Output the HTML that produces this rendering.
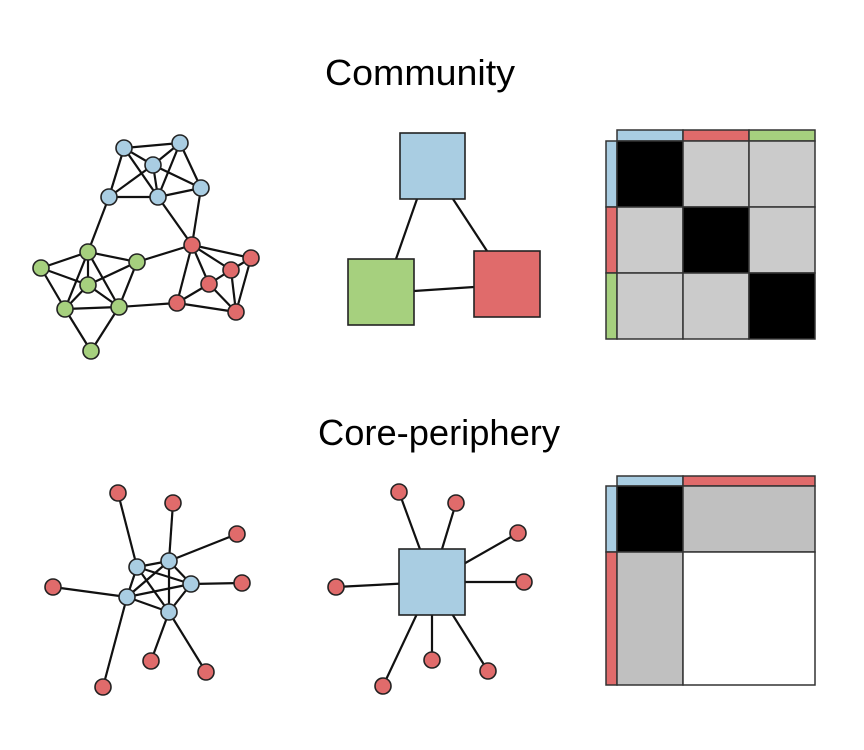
<!DOCTYPE html>
<html><head><style>html,body{margin:0;padding:0;background:#fff}svg{display:block}</style></head>
<body>
<svg width="864" height="750" viewBox="0 0 864 750" xmlns="http://www.w3.org/2000/svg">
<rect width="864" height="750" fill="#fff"/>
<g font-family="Liberation Sans, Arial, sans-serif" font-size="36" fill="#000">
<text x="325" y="85" textLength="190" lengthAdjust="spacingAndGlyphs">Community</text>
<text x="318" y="445" textLength="242" lengthAdjust="spacingAndGlyphs">Core-periphery</text>
</g>
<g stroke="#111" stroke-width="2.2">
<!-- community graph edges -->
<line x1="124" y1="148" x2="180" y2="143"/><line x1="124" y1="148" x2="153" y2="165"/><line x1="124" y1="148" x2="109" y2="197"/><line x1="124" y1="148" x2="158" y2="197"/>
<line x1="180" y1="143" x2="153" y2="165"/><line x1="180" y1="143" x2="158" y2="197"/><line x1="180" y1="143" x2="201" y2="188"/>
<line x1="153" y1="165" x2="109" y2="197"/><line x1="153" y1="165" x2="158" y2="197"/><line x1="153" y1="165" x2="201" y2="188"/>
<line x1="109" y1="197" x2="158" y2="197"/><line x1="158" y1="197" x2="201" y2="188"/>
<line x1="109" y1="197" x2="88" y2="252"/><line x1="158" y1="197" x2="192" y2="245"/><line x1="201" y1="188" x2="192" y2="245"/>
<line x1="192" y1="245" x2="251" y2="258"/><line x1="192" y1="245" x2="231" y2="270"/><line x1="192" y1="245" x2="209" y2="284"/><line x1="192" y1="245" x2="177" y2="303"/>
<line x1="251" y1="258" x2="236" y2="312"/><line x1="251" y1="258" x2="231" y2="270"/><line x1="231" y1="270" x2="209" y2="284"/><line x1="231" y1="270" x2="236" y2="312"/>
<line x1="209" y1="284" x2="177" y2="303"/><line x1="209" y1="284" x2="236" y2="312"/><line x1="177" y1="303" x2="236" y2="312"/>
<line x1="88" y1="252" x2="41" y2="268"/><line x1="88" y1="252" x2="137" y2="262"/><line x1="88" y1="252" x2="88" y2="285"/><line x1="88" y1="252" x2="65" y2="309"/><line x1="88" y1="252" x2="119" y2="307"/>
<line x1="41" y1="268" x2="88" y2="285"/><line x1="41" y1="268" x2="65" y2="309"/><line x1="137" y1="262" x2="88" y2="285"/><line x1="137" y1="262" x2="119" y2="307"/>
<line x1="88" y1="285" x2="65" y2="309"/><line x1="88" y1="285" x2="119" y2="307"/><line x1="65" y1="309" x2="119" y2="307"/>
<line x1="65" y1="309" x2="91" y2="351"/><line x1="119" y1="307" x2="91" y2="351"/>
<line x1="137" y1="262" x2="192" y2="245"/><line x1="119" y1="307" x2="177" y2="303"/>
<!-- community middle -->
<line x1="417" y1="199" x2="396" y2="259"/><line x1="453" y1="199" x2="487" y2="251"/><line x1="414" y1="291" x2="474" y2="287"/>
<!-- core-periphery graph edges -->
<line x1="137" y1="567" x2="169" y2="561"/><line x1="137" y1="567" x2="191" y2="584"/><line x1="137" y1="567" x2="127" y2="597"/><line x1="137" y1="567" x2="169" y2="612"/>
<line x1="169" y1="561" x2="191" y2="584"/><line x1="169" y1="561" x2="127" y2="597"/><line x1="169" y1="561" x2="169" y2="612"/>
<line x1="191" y1="584" x2="127" y2="597"/><line x1="191" y1="584" x2="169" y2="612"/><line x1="127" y1="597" x2="169" y2="612"/>
<line x1="118" y1="493" x2="137" y2="567"/><line x1="173" y1="503" x2="169" y2="561"/><line x1="237" y1="534" x2="169" y2="561"/><line x1="242" y1="583" x2="191" y2="584"/>
<line x1="53" y1="587" x2="127" y2="597"/><line x1="103" y1="687" x2="127" y2="597"/><line x1="151" y1="661" x2="169" y2="612"/><line x1="206" y1="672" x2="169" y2="612"/>
<!-- core-periphery middle spokes -->
<line x1="399" y1="492" x2="432" y2="582"/><line x1="456" y1="503" x2="432" y2="582"/><line x1="518" y1="533" x2="432" y2="582"/><line x1="524" y1="582" x2="432" y2="582"/>
<line x1="336" y1="587" x2="432" y2="582"/><line x1="432" y1="660" x2="432" y2="582"/><line x1="488" y1="671" x2="432" y2="582"/><line x1="383" y1="686" x2="432" y2="582"/>
</g>
<g stroke="#222" stroke-width="1.6">
<g fill="#a9cde2">
<circle cx="124" cy="148" r="8"/><circle cx="180" cy="143" r="8"/><circle cx="153" cy="165" r="8"/><circle cx="109" cy="197" r="8"/><circle cx="158" cy="197" r="8"/><circle cx="201" cy="188" r="8"/>
<circle cx="137" cy="567" r="8"/><circle cx="169" cy="561" r="8"/><circle cx="191" cy="584" r="8"/><circle cx="127" cy="597" r="8"/><circle cx="169" cy="612" r="8"/>
<rect x="400" y="133" width="65" height="66"/>
<rect x="399" y="549" width="66" height="66"/>
</g>
<g fill="#e06b6b">
<circle cx="192" cy="245" r="8"/><circle cx="251" cy="258" r="8"/><circle cx="231" cy="270" r="8"/><circle cx="209" cy="284" r="8"/><circle cx="177" cy="303" r="8"/><circle cx="236" cy="312" r="8"/>
<circle cx="118" cy="493" r="8"/><circle cx="173" cy="503" r="8"/><circle cx="237" cy="534" r="8"/><circle cx="242" cy="583" r="8"/><circle cx="53" cy="587" r="8"/><circle cx="151" cy="661" r="8"/><circle cx="206" cy="672" r="8"/><circle cx="103" cy="687" r="8"/>
<circle cx="399" cy="492" r="8"/><circle cx="456" cy="503" r="8"/><circle cx="518" cy="533" r="8"/><circle cx="524" cy="582" r="8"/><circle cx="336" cy="587" r="8"/><circle cx="432" cy="660" r="8"/><circle cx="488" cy="671" r="8"/><circle cx="383" cy="686" r="8"/>
<rect x="474" y="251" width="66" height="66"/>
</g>
<g fill="#a6d07e">
<circle cx="88" cy="252" r="8"/><circle cx="41" cy="268" r="8"/><circle cx="137" cy="262" r="8"/><circle cx="88" cy="285" r="8"/><circle cx="65" cy="309" r="8"/><circle cx="119" cy="307" r="8"/><circle cx="91" cy="351" r="8"/>
<rect x="348" y="259" width="66" height="66"/>
</g>
</g>
<!-- matrices -->
<g stroke="#333" stroke-width="1.5">
<rect x="617" y="130" width="66" height="11" fill="#a9cde2"/><rect x="683" y="130" width="66" height="11" fill="#e06b6b"/><rect x="749" y="130" width="66" height="11" fill="#a6d07e"/>
<rect x="606" y="141" width="11" height="66" fill="#a9cde2"/><rect x="606" y="207" width="11" height="66" fill="#e06b6b"/><rect x="606" y="273" width="11" height="66" fill="#a6d07e"/>
<rect x="617" y="141" width="66" height="66" fill="#000"/><rect x="683" y="141" width="66" height="66" fill="#cbcbcb"/><rect x="749" y="141" width="66" height="66" fill="#cbcbcb"/>
<rect x="617" y="207" width="66" height="66" fill="#cbcbcb"/><rect x="683" y="207" width="66" height="66" fill="#000"/><rect x="749" y="207" width="66" height="66" fill="#cbcbcb"/>
<rect x="617" y="273" width="66" height="66" fill="#cbcbcb"/><rect x="683" y="273" width="66" height="66" fill="#cbcbcb"/><rect x="749" y="273" width="66" height="66" fill="#000"/>

<rect x="617" y="476" width="66" height="10" fill="#a9cde2"/><rect x="683" y="476" width="132" height="10" fill="#e06b6b"/>
<rect x="606" y="486" width="11" height="66" fill="#a9cde2"/><rect x="606" y="552" width="11" height="133" fill="#e06b6b"/>
<rect x="617" y="486" width="66" height="66" fill="#000"/><rect x="683" y="486" width="132" height="66" fill="#c0c0c0"/>
<rect x="617" y="552" width="66" height="133" fill="#c0c0c0"/><rect x="683" y="552" width="132" height="133" fill="#fff"/>
</g>
</svg>
</body></html>
